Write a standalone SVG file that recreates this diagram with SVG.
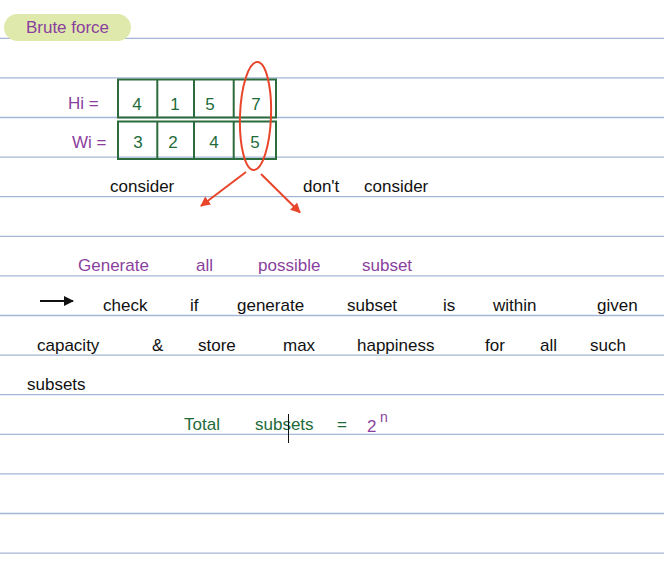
<svg xmlns="http://www.w3.org/2000/svg" width="664" height="577" viewBox="0 0 664 577">
<defs>
<style>
.rule{stroke:#a3b7d6;stroke-width:1.3}
.t{font-family:"Liberation Sans",Arial,sans-serif;font-size:17px}
.pur{fill:#8a3f9e}
.grn{fill:#1e6b3a}
.blk{fill:#111}
.cell{fill:none;stroke:#2c6b3c;stroke-width:2}
.red{stroke:#e8452b;stroke-width:2;fill:none}
</style>
<marker id="ah" viewBox="0 0 10 10" refX="9" refY="5" markerWidth="10" markerHeight="10" markerUnits="userSpaceOnUse" orient="auto">
<path d="M0,0 L10,5 L0,10 z" fill="#e8452b"/>
</marker>
<marker id="ahb" viewBox="0 0 10 10" refX="9" refY="5" markerWidth="11" markerHeight="10" markerUnits="userSpaceOnUse" orient="auto">
<path d="M0,0 L10,5 L0,10 z" fill="#111"/>
</marker>
</defs>
<rect width="664" height="577" fill="#fff"/>
<g id="rules">
<line class="rule" x1="0" y1="38.3" x2="664" y2="38.3"/>
<line class="rule" x1="0" y1="77.9" x2="664" y2="77.9"/>
<line class="rule" x1="0" y1="117.5" x2="664" y2="117.5"/>
<line class="rule" x1="0" y1="157.1" x2="664" y2="157.1"/>
<line class="rule" x1="0" y1="196.7" x2="664" y2="196.7"/>
<line class="rule" x1="0" y1="236.3" x2="664" y2="236.3"/>
<line class="rule" x1="0" y1="275.9" x2="664" y2="275.9"/>
<line class="rule" x1="0" y1="315.5" x2="664" y2="315.5"/>
<line class="rule" x1="0" y1="355.1" x2="664" y2="355.1"/>
<line class="rule" x1="0" y1="394.7" x2="664" y2="394.7"/>
<line class="rule" x1="0" y1="434.3" x2="664" y2="434.3"/>
<line class="rule" x1="0" y1="473.9" x2="664" y2="473.9"/>
<line class="rule" x1="0" y1="513.5" x2="664" y2="513.5"/>
<line class="rule" x1="0" y1="553.1" x2="664" y2="553.1"/>
</g>
<g id="title">
<rect x="4" y="14" width="127" height="27" rx="13.5" fill="#dfe9ab"/>
<text class="t pur" x="67.5" y="33" text-anchor="middle">Brute force</text>
</g>
<g id="labels">
<text class="t pur" x="68" y="109">Hi =</text>
<text class="t pur" x="72" y="148">Wi =</text>
</g>
<g id="hi-row">
<rect class="cell" x="118" y="79.5" width="158" height="38"/>
<line class="cell" x1="157.3" y1="79.5" x2="157.3" y2="117.5"/>
<line class="cell" x1="194" y1="79.5" x2="194" y2="117.5"/>
<line class="cell" x1="233.7" y1="79.5" x2="233.7" y2="117.5"/>
<text class="t grn" text-anchor="middle" y="110"><tspan x="137">4</tspan><tspan x="175">1</tspan><tspan x="210">5</tspan><tspan x="256">7</tspan></text>
</g>
<g id="wi-row">
<rect class="cell" x="118" y="121.5" width="158" height="37.5"/>
<line class="cell" x1="157.3" y1="121.5" x2="157.3" y2="159"/>
<line class="cell" x1="194" y1="121.5" x2="194" y2="159"/>
<line class="cell" x1="233.7" y1="121.5" x2="233.7" y2="159"/>
<text class="t grn" text-anchor="middle" y="148"><tspan x="138">3</tspan><tspan x="173">2</tspan><tspan x="214">4</tspan><tspan x="255">5</tspan></text>
</g>
<g id="highlight">
<ellipse class="red" cx="255.5" cy="116" rx="15.5" ry="54" transform="rotate(2 255.5 116)"/>
</g>
<g id="connectors">
<line class="red" x1="246" y1="172" x2="201" y2="206" marker-end="url(#ah)"/>
<line class="red" x1="261" y1="174" x2="300" y2="212.5" marker-end="url(#ah)"/>
<line x1="40" y1="301" x2="73" y2="301" stroke="#111" stroke-width="2" marker-end="url(#ahb)"/>
</g>
<g id="branch-labels">
<text class="t blk" x="110" y="192">consider</text>
<text class="t blk" y="192"><tspan x="303">don't</tspan><tspan x="364">consider</tspan></text>
</g>
<g id="generate">
<text class="t pur" y="271"><tspan x="78">Generate</tspan><tspan x="196">all</tspan><tspan x="258">possible</tspan><tspan x="362">subset</tspan></text>
</g>
<g id="description">
<text class="t blk" y="311"><tspan x="103">check</tspan><tspan x="190">if</tspan><tspan x="237">generate</tspan><tspan x="347">subset</tspan><tspan x="443">is</tspan><tspan x="493">within</tspan><tspan x="597">given</tspan></text>
<text class="t blk" y="351"><tspan x="37">capacity</tspan><tspan x="152">&amp;</tspan><tspan x="198">store</tspan><tspan x="283">max</tspan><tspan x="357">happiness</tspan><tspan x="485">for</tspan><tspan x="540">all</tspan><tspan x="590">such</tspan></text>
<text class="t blk" x="27" y="390">subsets</text>
</g>
<g id="total">
<text class="t grn" y="430"><tspan x="184">Total</tspan><tspan x="255">subsets</tspan><tspan x="337">=</tspan></text>
<text class="t pur" x="367" y="432">2<tspan x="380" y="422" font-size="14">n</tspan></text>
<line x1="288.5" y1="414" x2="288.5" y2="443" stroke="#111" stroke-width="1"/>
</g>
</svg>
